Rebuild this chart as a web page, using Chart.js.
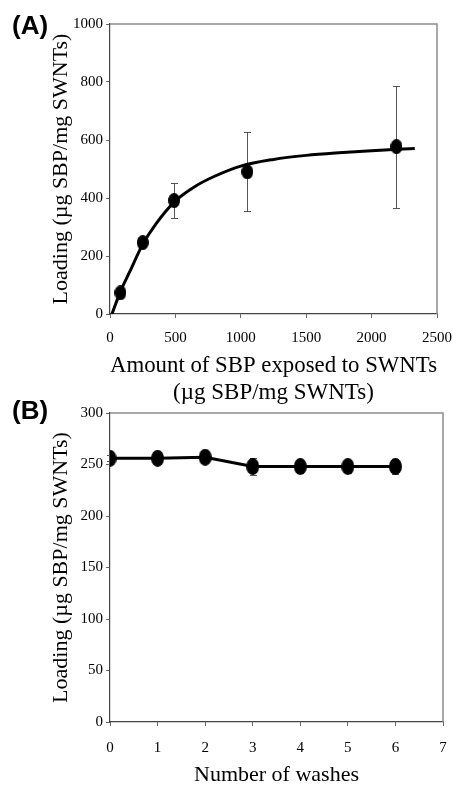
<!DOCTYPE html>
<html>
<head>
<meta charset="utf-8">
<script src="https://cdn.jsdelivr.net/npm/chart.js@4.4.1/dist/chart.umd.min.js"></script>
<style>
  html, body { margin: 0; padding: 0; background: #fff; overflow: hidden; }
  #pagina { position: relative; width: 453px; height: 785px; }
  canvas { position: absolute; left: 0; }
  .painel { position: absolute; left: 12px; font: bold 26px "Liberation Sans", Arial, sans-serif; line-height: 26px; color: #000; }
</style>
</head>
<body>
<div id="pagina">
  <canvas id="graficoA" width="453" height="406" style="top:0"></canvas>
  <canvas id="graficoB" width="453" height="389" style="top:396px"></canvas>
  <div class="painel" style="top:12px">(A)</div>
  <div class="painel" style="top:397px">(B)</div>
</div>
<script>
// Painel A: carga em função da quantidade de SBP
let quantidadeSBP = [80, 250, 490, 1050, 2190];
let cargaA = [73, 246, 391, 490, 577];
let erroA = [8, 10, 61, 136, 210];

// curva ajustada
let curvaX = [15, 80, 150, 250, 350, 500, 650, 800, 1000, 1250, 1500, 1750, 2000, 2200, 2330];
let curvaY = [0, 78, 145, 240, 310, 390, 440, 475, 510, 533, 547, 556, 563, 568, 571];

// eixos do painel A: [min, max, passo]
let eixoXA = [0, 2500, 500];
let eixoYA = [0, 1000, 200];

// Painel B: carga após lavagens
let lavagens = [0, 1, 2, 3, 4, 5, 6];
let cargaB = [256, 256, 257, 248, 248, 248, 248];
let erroB = [3, 3, 3, 8, 6, 6, 7];

let eixoXB = [0, 7, 1];
let eixoYB = [0, 300, 50];

const serif = "'Liberation Serif', 'Times New Roman', serif";

// Ponto elíptico (os marcadores do original são mais altos que largos)
function criarElipse(w, h) {
    let c = document.createElement('canvas');
    c.width = w;
    c.height = h;
    let g = c.getContext('2d');
    g.fillStyle = '#000';
    g.beginPath();
    g.ellipse(w / 2, h / 2, w / 2, h / 2, 0, 0, Math.PI * 2);
    g.fill();
    return c;
}

// Moldura cinza (topo e direita) e barras de erro
function pluginMoldura(xs, ys, erros) {
    return {
        id: 'moldura',
        beforeDatasetsDraw(chart) {
            let ctx = chart.ctx;
            let a = chart.chartArea;
            let x = chart.scales.x;
            let y = chart.scales.y;
            ctx.save();
            ctx.strokeStyle = '#8c8c8c';
            ctx.lineWidth = 1.5;
            ctx.beginPath();
            ctx.moveTo(a.left, a.top);
            ctx.lineTo(a.right, a.top);
            ctx.lineTo(a.right, a.bottom);
            ctx.stroke();

            ctx.strokeStyle = '#555';
            ctx.lineWidth = 1;
            xs.forEach((v, i) => {
                let px = Math.round(x.getPixelForValue(v)) + 0.5;
                let y1 = Math.round(y.getPixelForValue(ys[i] + erros[i])) + 0.5;
                let y2 = Math.round(y.getPixelForValue(ys[i] - erros[i])) + 0.5;
                ctx.beginPath();
                ctx.moveTo(px, y1);
                ctx.lineTo(px, y2);
                ctx.moveTo(px - 3.5, y1);
                ctx.lineTo(px + 3.5, y1);
                ctx.moveTo(px - 3.5, y2);
                ctx.lineTo(px + 3.5, y2);
                ctx.stroke();
            });
            ctx.restore();
        }
    };
}

function eixo(limites, padding, opcoes) {
    return Object.assign({
        type: 'linear',
        min: limites[0],
        max: limites[1],
        ticks: {
            stepSize: limites[2],
            color: '#000',
            font: { family: serif, size: 15 },
            maxRotation: 0,
            padding: padding,
            callback: v => String(v) // sem separador de milhar
        },
        grid: { drawOnChartArea: false, drawTicks: true, tickLength: 4, color: '#666' },
        border: { color: '#444', width: 1.2 }
    }, opcoes);
}

// fixa a largura/altura dos eixos e anula o espaço extra dos rótulos
function fixarX(altura) {
    return s => { s.height = altura; s.paddingLeft = 0; s.paddingRight = 0; };
}
function fixarY(largura) {
    return s => { s.width = largura; s.paddingTop = 0; s.paddingBottom = 0; };
}

// Gráfico A
new Chart(document.getElementById('graficoA').getContext('2d'), {
    type: 'scatter',
    data: {
        datasets: [{
            data: quantidadeSBP.map((v, i) => ({ x: v, y: cargaA[i] })),
            showLine: false,
            pointStyle: criarElipse(12, 15),
            backgroundColor: '#000'
        }, {
            data: curvaX.map((v, i) => ({ x: v, y: curvaY[i] })),
            showLine: true,
            borderColor: '#000',
            borderWidth: 3,
            pointRadius: 0,
            cubicInterpolationMode: 'monotone',
            fill: false
        }]
    },
    options: {
        responsive: false,
        animation: false,
        devicePixelRatio: 1,
        layout: { padding: { top: 24, right: 16, bottom: 0, left: 0 } },
        plugins: { legend: { display: false }, tooltip: { enabled: false } },
        scales: {
            x: eixo(eixoXA, 11, {
                title: {
                    display: true,
                    text: ['Amount of SBP exposed to SWNTs', '(µg SBP/mg SWNTs)'],
                    color: '#000',
                    font: { family: serif, size: 23, lineHeight: 1.17 },
                    padding: { top: 0, bottom: 0 }
                },
                afterFit: fixarX(92)
            }),
            y: eixo(eixoYA, 3, {
                title: {
                    display: true,
                    text: 'Loading (µg SBP/mg SWNTs)',
                    color: '#000',
                    font: { family: serif, size: 22, lineHeight: 1.2 },
                    padding: { top: 48, bottom: 0 }
                },
                afterFit: fixarY(110)
            })
        }
    },
    plugins: [pluginMoldura(quantidadeSBP, cargaA, erroA)]
});

// Gráfico B
new Chart(document.getElementById('graficoB').getContext('2d'), {
    type: 'scatter',
    data: {
        datasets: [{
            data: lavagens.map((v, i) => ({ x: v, y: cargaB[i] })),
            showLine: true,
            borderColor: '#000',
            borderWidth: 3,
            pointStyle: criarElipse(13, 17),
            backgroundColor: '#000',
            tension: 0
        }]
    },
    options: {
        responsive: false,
        animation: false,
        devicePixelRatio: 1,
        layout: { padding: { top: 17, right: 10, bottom: 0, left: 0 } },
        plugins: { legend: { display: false }, tooltip: { enabled: false } },
        scales: {
            x: eixo(eixoXB, 13, {
                title: {
                    display: true,
                    text: 'Number of washes',
                    color: '#000',
                    font: { family: serif, size: 22, lineHeight: 0.9 },
                    padding: { top: 0, bottom: 0 }
                },
                afterFit: fixarX(63)
            }),
            y: eixo(eixoYB, 3, {
                title: {
                    display: true,
                    text: 'Loading (µg SBP/mg SWNTs)',
                    color: '#000',
                    font: { family: serif, size: 22, lineHeight: 1.2 },
                    padding: { top: 48, bottom: 0 }
                },
                afterFit: fixarY(110)
            })
        }
    },
    plugins: [pluginMoldura(lavagens, cargaB, erroB)]
});
</script>
</body>
</html>
